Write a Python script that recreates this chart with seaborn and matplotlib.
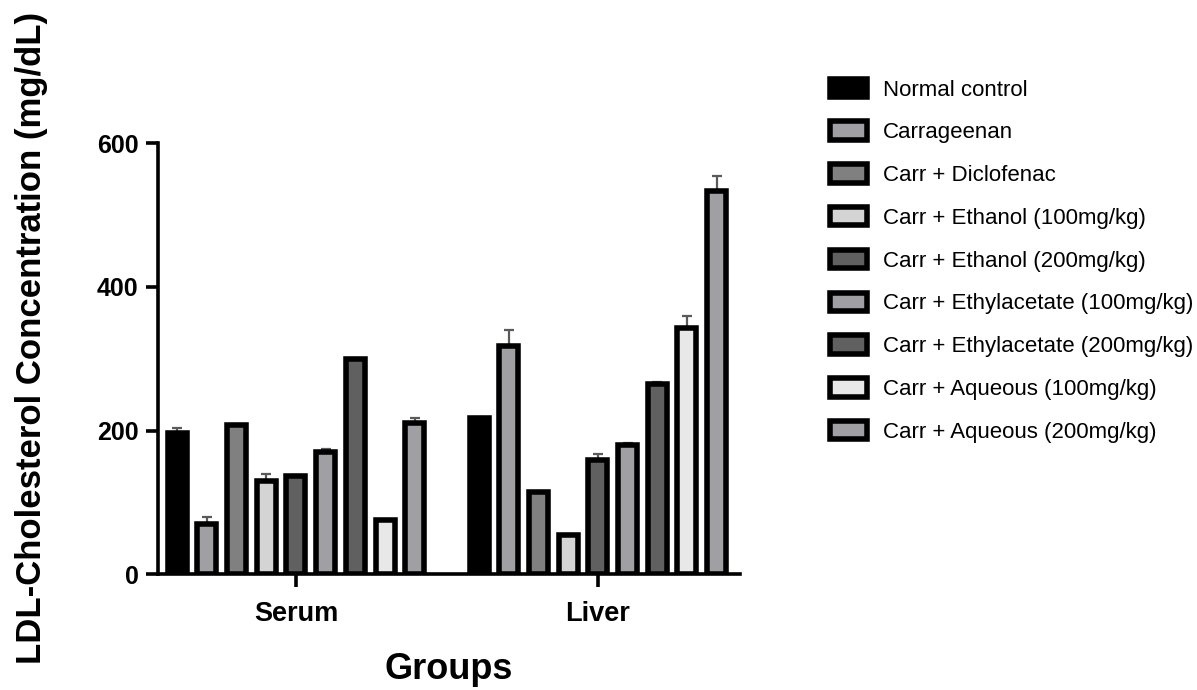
import matplotlib
matplotlib.use("Agg")
import matplotlib.pyplot as plt
import seaborn as sns
import pandas as pd
import numpy as np

groups = ["Serum", "Liver"]
treatments = [
    "Normal control",
    "Carrageenan",
    "Carr + Diclofenac",
    "Carr + Ethanol (100mg/kg)",
    "Carr + Ethanol (200mg/kg)",
    "Carr + Ethylacetate (100mg/kg)",
    "Carr + Ethylacetate (200mg/kg)",
    "Carr + Aqueous (100mg/kg)",
    "Carr + Aqueous (200mg/kg)",
]
serum_mean = [197, 70, 208, 130, 137, 170, 299, 75, 210]
serum_err = [6, 10, 1, 10, 1, 5, 2, 1, 8]
liver_mean = [218, 317, 114, 54, 159, 180, 265, 343, 533]
liver_err = [1, 23, 1, 2, 9, 2, 2, 16, 21]
colors = ["#000000", "#A0A0A4", "#808080", "#D4D4D4", "#606060",
          "#A0A0A4", "#606060", "#E8E8E8", "#A0A0A4"]
yticks = [0, 200, 400, 600]

rows = []
for g, means, errs in [("Serum", serum_mean, serum_err), ("Liver", liver_mean, liver_err)]:
    for t, m, e in zip(treatments, means, errs):
        rows.append({"Group": g, "Treatment": t, "Value": m, "Err": e})
df = pd.DataFrame(rows)

sns.set_style("ticks")
plt.rcParams["font.family"] = ["Liberation Sans", "DejaVu Sans"]
plt.rcParams["text.color"] = "black"
plt.rcParams["axes.labelcolor"] = "black"
plt.rcParams["axes.edgecolor"] = "black"
plt.rcParams["xtick.color"] = "black"
plt.rcParams["ytick.color"] = "black"

fig = plt.figure(figsize=(11.97, 6.90), dpi=100)
ax = fig.add_axes([0.132, 0.1677, 0.486, 0.625])

sns.barplot(data=df, x="Group", y="Value", hue="Treatment", order=groups,
            hue_order=treatments, palette=colors, width=0.885, gap=0.36,
            errorbar=None, edgecolor="black", linewidth=4.0, ax=ax,
            saturation=1, zorder=2)

# error bars (upper only) from bar geometry, drawn behind the bars
for cont, t in zip(ax.containers, treatments):
    sub = df[df["Treatment"] == t].set_index("Group").loc[groups]
    xs = [p.get_x() + p.get_width() / 2 for p in cont.patches]
    hs = [p.get_height() for p in cont.patches]
    errs = sub["Err"].values
    ax.errorbar(xs, hs, yerr=[np.zeros(len(errs)), errs], fmt="none",
                ecolor="#5a5a5a", elinewidth=1.6, capsize=3.5, capthick=1.6, zorder=1)

ax.set_ylim(0, 600)
ax.set_xlim(-0.457, 1.470)
ax.set_yticks(yticks)
ax.set_yticklabels([str(v) for v in yticks], fontsize=18, fontweight="bold")
ax.set_xticks([0, 1])
ax.set_xticklabels(groups, fontsize=19.5, fontweight="bold")
sns.despine(ax=ax)
for s in ["left", "bottom"]:
    ax.spines[s].set_linewidth(2.6)
    ax.spines[s].set_color("black")
    ax.spines[s].set_zorder(3)
ax.tick_params(axis="both", width=2.6, length=9, colors="black")
ax.tick_params(axis="y", pad=5)
ax.tick_params(axis="x", pad=10)

ax.set_xlabel("Groups", fontsize=26, fontweight="bold", labelpad=18, color="black")
ax.set_ylabel("")
fig.text(0.026, 0.51, "LDL-Cholesterol Concentration (mg/dL)", rotation=90,
         fontsize=25, fontweight="bold", ha="center", va="center", color="black")

handles, labels = ax.get_legend_handles_labels()
if ax.get_legend() is not None:
    ax.get_legend().remove()
fig.legend(handles, labels, loc="upper left", bbox_to_anchor=(0.693, 0.886),
           frameon=False, fontsize=16, handlelength=1.7, handleheight=0.9,
           labelspacing=0.94, handletextpad=0.7, borderpad=0, borderaxespad=0,
           labelcolor="black")

fig.savefig("out.png", dpi=100)
